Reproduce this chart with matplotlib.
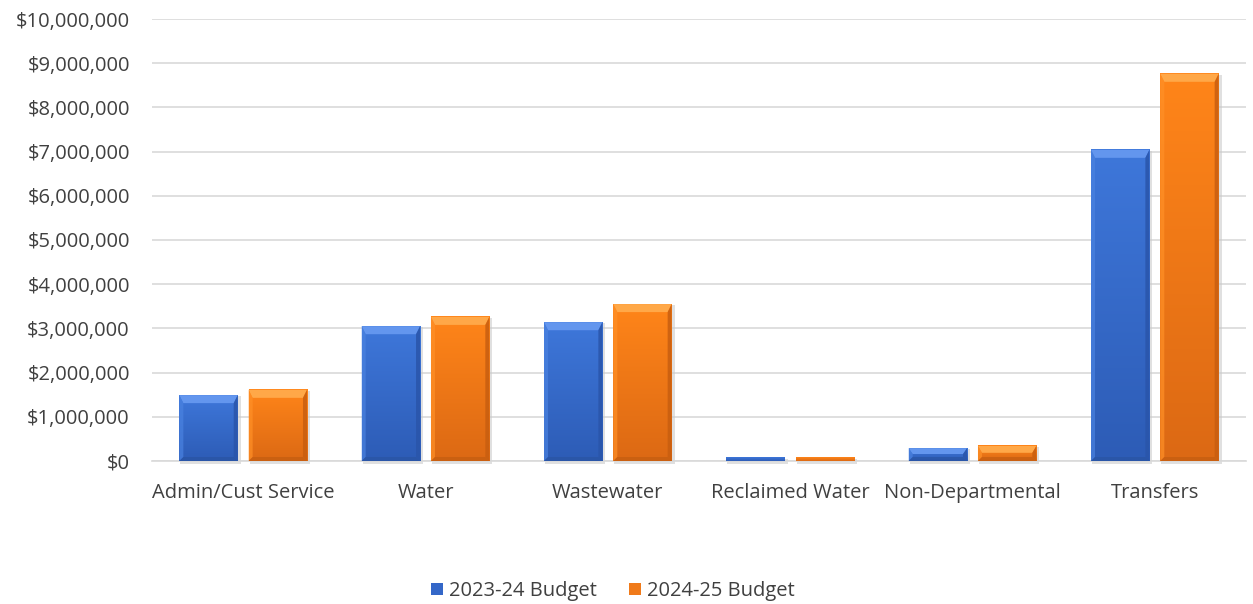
import matplotlib
matplotlib.use("Agg")
import matplotlib.pyplot as plt
from matplotlib.patches import Polygon, Rectangle
from matplotlib.ticker import FuncFormatter, MultipleLocator
from matplotlib.transforms import IdentityTransform
from matplotlib.colors import to_rgb
import numpy as np

categories = ["Admin/Cust Service", "Water", "Wastewater", "Reclaimed Water",
              "Non-Departmental", "Transfers"]
budget_2023_24 = [1490000, 3050000, 3140000, 70000, 290000, 7040000]
budget_2024_25 = [1610000, 3260000, 3550000, 70000, 340000, 8760000]
series_names = ["2023-24 Budget", "2024-25 Budget"]

W, H = 1253, 604
fig = plt.figure(figsize=(W / 100, H / 100), dpi=100)
ax = fig.add_axes([152 / W, 1 - 461 / H, (1246 - 152) / W, (461 - 19) / H])

# per-series palette: face top, face bottom, bevel colours, legend swatch
palettes = [
    dict(top="#3E77DA", bottom="#2D5CB6", bev_top="#6396EE", bev_left="#4A82E0",
         bev_right="#2A55AA", bev_bot="#28529F", legend="#3467C8"),
    dict(top="#FF8519", bottom="#DC6914", bev_top="#FFA848", bev_left="#FF9027",
         bev_right="#C85E10", bev_bot="#BE5A10", legend="#F07A1A"),
]

x = np.arange(len(categories))
bw = 0.32
offset = 0.19
XLIM = (-0.5, len(categories) - 0.5)
YLIM = (0, 10_000_000)

ax.set_xlim(*XLIM)
ax.set_ylim(*YLIM)
ax.yaxis.set_major_locator(MultipleLocator(1_000_000))
ax.yaxis.set_major_formatter(FuncFormatter(lambda v, p: f"${v:,.0f}"))
ax.grid(axis="y", color="#D9D9D9", linewidth=1.2)
ax.set_axisbelow(True)
for s in ["top", "right", "left"]:
    ax.spines[s].set_visible(False)
ax.spines["bottom"].set_color("#D9D9D9")
ax.spines["bottom"].set_linewidth(1.2)
ax.tick_params(axis="both", length=0)
ax.tick_params(axis="y", pad=16, labelsize=14.5, labelcolor="#404040")
ax.tick_params(axis="x", pad=16, labelsize=14.5, labelcolor="#404040")
ax.set_xticks(x)
ax.set_xticklabels(categories)
for lbl in ax.get_xticklabels() + ax.get_yticklabels():
    lbl.set_fontfamily("Open Sans")

bars_all = []
for i, (vals, sign) in enumerate(((budget_2023_24, -1), (budget_2024_25, 1))):
    bars = ax.bar(x + sign * offset, vals, width=bw, color=palettes[i]["legend"],
                  zorder=3, label=series_names[i], linewidth=0)
    bars_all.append((i, bars))

# vertical gradient fill for each bar face
for i, bars in bars_all:
    c_top = np.array(to_rgb(palettes[i]["top"]))
    c_bot = np.array(to_rgb(palettes[i]["bottom"]))
    t = np.linspace(0, 1, 64)[:, None]
    grad = (c_top * (1 - t) + c_bot * t)[:, None, :]
    for b in bars:
        ax.imshow(grad, extent=[b.get_x(), b.get_x() + b.get_width(), 0, b.get_height()],
                  aspect="auto", interpolation="bilinear", zorder=3.2, origin="upper")
ax.set_xlim(*XLIM)
ax.set_ylim(*YLIM)
ax.set_aspect("auto")

fig.canvas.draw()
ident = IdentityTransform()

# bevel shading and soft shadow drawn in pixel space around each bar
for i, bars in bars_all:
    p = palettes[i]
    for b in bars:
        (x0, y0), (x1, y1) = ax.transData.transform(
            [(b.get_x(), 0), (b.get_x() + b.get_width(), b.get_height())])
        h = y1 - y0
        sh = Rectangle((x0 + 1, y0 - 3), x1 - x0 + 2, h + 2, transform=ident,
                       facecolor="#C8C8C8", alpha=0.55, edgecolor="none", zorder=2.5)
        sh.set_clip_on(False)
        ax.add_artist(sh)
        d = min(8, h / 2.2)
        if d < 1.5:
            continue
        sd = min(4, d)
        polys = [
            ([(x0, y1), (x1, y1), (x1 - sd, y1 - d), (x0 + sd, y1 - d)], p["bev_top"], 1.0),
            ([(x0, y0), (x0, y1), (x0 + sd, y1 - d), (x0 + sd, y0 + sd)], p["bev_left"], 0.7),
            ([(x1, y0), (x1, y1), (x1 - sd, y1 - d), (x1 - sd, y0 + sd)], p["bev_right"], 0.85),
            ([(x0, y0), (x1, y0), (x1 - sd, y0 + sd), (x0 + sd, y0 + sd)], p["bev_bot"], 0.6),
        ]
        for pts, col, a in polys:
            pg = Polygon(pts, closed=True, transform=ident, facecolor=col,
                         edgecolor="none", alpha=a, zorder=4)
            pg.set_clip_on(False)
            ax.add_artist(pg)

leg = fig.legend(handles=[bars_all[0][1], bars_all[1][1]], labels=series_names,
                 loc="center", bbox_to_anchor=(613 / W, 1 - 591 / H), ncol=2,
                 frameon=False, handlelength=0.6, handleheight=0.6,
                 handletextpad=0.3, columnspacing=1.6,
                 prop={"family": "Open Sans", "size": 14.5})
for t in leg.get_texts():
    t.set_color("#404040")

fig.savefig("out.png", dpi=100)
